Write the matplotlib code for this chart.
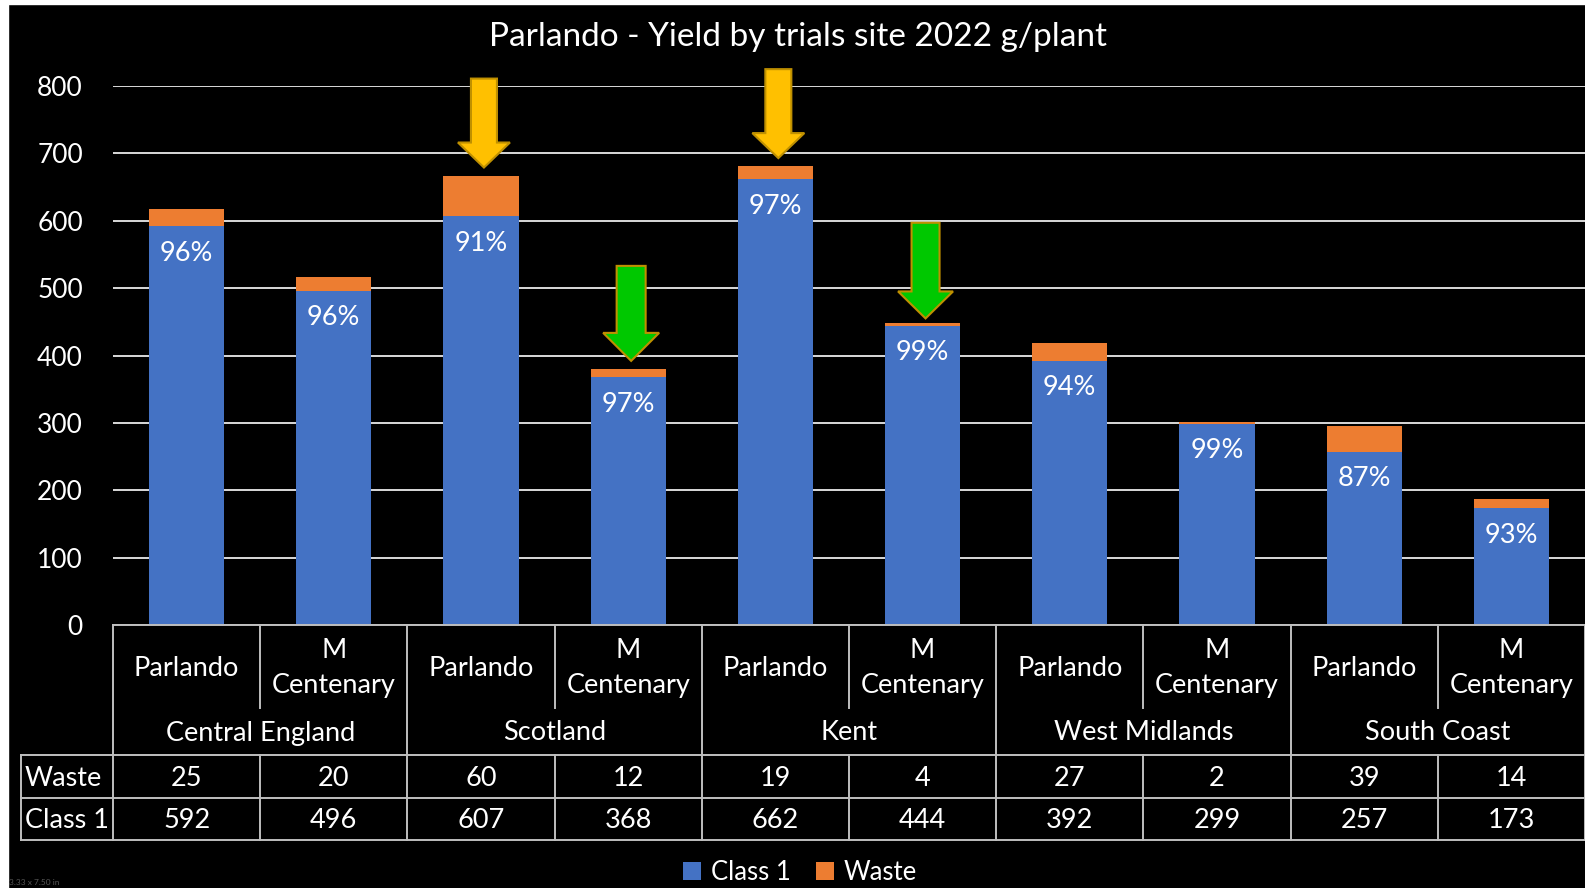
import matplotlib
matplotlib.use("Agg")
import matplotlib.pyplot as plt
from matplotlib.patches import Rectangle, Polygon
from matplotlib.lines import Line2D

plt.rcParams['font.family'] = ['Lato', 'DejaVu Sans']

# ---- data ----
title = "Parlando - Yield by trials site 2022 g/plant"
sites = ["Central England", "Scotland", "Kent", "West Midlands", "South Coast"]
varieties = ["Parlando", "M Centenary"]
class1 = [592, 496, 607, 368, 662, 444, 392, 299, 257, 173]
waste = [25, 20, 60, 12, 19, 4, 27, 2, 39, 14]
yticks = [0, 100, 200, 300, 400, 500, 600, 700, 800]

BLUE = '#4472C4'
ORANGE = '#ED7D31'
GRID = '#D9D9D9'
TXT = 'white'
FS = 19.5

W, H = 1585, 888
fig = plt.figure(figsize=(W / 100, H / 100), dpi=100)
fig.patch.set_facecolor('black')

# pixel helpers for layout
ax_left, ax_right, ax_top, ax_bot = 113, 1585, 86, 625
ax = fig.add_axes([ax_left / W, 1 - ax_bot / H, (ax_right - ax_left) / W, (ax_bot - ax_top) / H])
ax.set_facecolor('black')
n = len(class1)
x = list(range(n))
ax.set_xlim(-0.5, n - 0.5)
ax.set_ylim(0, 800)
for s in ax.spines.values():
    s.set_visible(False)
ax.set_xticks([])
ax.set_yticks(yticks)
ax.tick_params(axis='y', length=0, pad=21.6, labelcolor=TXT, labelsize=19)
ax.yaxis.grid(True, color=GRID, lw=1.4)
ax.set_axisbelow(True)

bw = 0.51
b1 = ax.bar(x, class1, width=bw, color=BLUE, label='Class 1', zorder=2)
b2 = ax.bar(x, waste, bottom=class1, width=bw, color=ORANGE, label='Waste', zorder=2)

# percentage labels
for xi, c, w in zip(x, class1, waste):
    pct = round(100 * c / (c + w))
    ax.annotate(f"{pct}%", (xi, c), xytext=(0, -19.5), textcoords='offset points',
                ha='center', va='center', color=TXT, fontsize=FS, zorder=4)

# ---- annotation arrows (drawn shapes) ----
px_per_unit = (ax_bot - ax_top) / 800.0
col_px = (ax_right - ax_left) / n
arrows = [  # (column, tip value, top value, head length px, shaft px, head px, face, edge)
    (2, 679, 811, 25, 26, 52, '#FFC000', '#BF9000'),
    (4, 693, 825, 25, 26, 52, '#FFC000', '#BF9000'),
    (3, 392, 533, 28, 29, 56, '#00C800', '#BF9000'),
    (5, 455, 597, 27, 28, 55, '#00C800', '#BF9000'),
]
for col, tip, top, hl_px, sw, hw, fc, ec in arrows:
    cx = col + 0.02
    hl = hl_px / px_per_unit
    shw = sw / 2 / col_px
    hhw = hw / 2 / col_px
    pts = [(cx - shw, top), (cx + shw, top), (cx + shw, tip + hl),
           (cx + hhw, tip + hl), (cx, tip), (cx - hhw, tip + hl),
           (cx - shw, tip + hl)]
    ax.add_patch(Polygon(pts, closed=True, facecolor=fc, edgecolor=ec, lw=1.5,
                         zorder=5, clip_on=False))

# ---- data table below axis ----
tr = ax.get_xaxis_transform()
def yf(ypx):
    return (ax_bot - ypx) / (ax_bot - ax_top)

TL = '#BFBFBF'
x_lab = -0.5 + (21 - ax_left) / col_px
def hline(y, x0, x1):
    ax.add_line(Line2D([x0, x1], [yf(y), yf(y)], transform=tr, color=TL, lw=1.4, clip_on=False))
def vline(xv, y0, y1):
    ax.add_line(Line2D([xv, xv], [yf(y0), yf(y1)], transform=tr, color=TL, lw=1.4, clip_on=False))

hline(625, -0.5, n - 0.5)
for yy in (755, 798, 840):
    hline(yy, x_lab, n - 0.5)
vline(x_lab, 755, 840)
vline(-0.5, 625, 840)
for g in range(len(sites)):
    vline(2 * g + 1.5, 625, 840)
    vline(2 * g + 0.5, 625, 708)
    vline(2 * g + 0.5, 755, 840)

for i in range(n):
    v = varieties[i % 2]
    ax.text(i, yf(668), v.replace(' ', '\n'), transform=tr, ha='center', va='center',
            color=TXT, fontsize=FS, linespacing=1.53)
    ax.text(i, yf(779), str(waste[i]), transform=tr, ha='center', va='center', color=TXT, fontsize=FS)
    ax.text(i, yf(820), str(class1[i]), transform=tr, ha='center', va='center', color=TXT, fontsize=FS)
for g, s in enumerate(sites):
    ax.text(2 * g + 0.5, yf(733), s, transform=tr, ha='center', va='center', color=TXT, fontsize=FS)
x_txt = -0.5 + (25 - ax_left) / col_px
ax.text(x_txt, yf(779), 'Waste', transform=tr, ha='left', va='center', color=TXT, fontsize=FS)
ax.text(x_txt, yf(820), 'Class 1', transform=tr, ha='left', va='center', color=TXT, fontsize=FS)

# ---- title & legend ----
fig.text(798 / W, 1 - 37 / H, title, ha='center', va='center', color=TXT, fontsize=24)
leg = fig.legend(handles=[b1, b2], loc='center', bbox_to_anchor=(800 / W, 1 - 872 / H), ncol=2,
                 frameon=False, fontsize=18.5, handlelength=0.7, handleheight=0.7,
                 handletextpad=0.36, columnspacing=1.0, labelcolor=TXT)

# white border strips and size note
fig.patches.append(Rectangle((0, 0), 8 / W, 1, transform=fig.transFigure, color='white', zorder=10))
fig.patches.append(Rectangle((0, 1 - 4 / H), 1, 4 / H, transform=fig.transFigure, color='white', zorder=10))
fig.text(9 / W, 1 - 882 / H, "3.33 x 7.50 in", color='#555555', fontsize=6, ha='left', va='center')

fig.savefig('out.png', dpi=100, facecolor=fig.get_facecolor())
